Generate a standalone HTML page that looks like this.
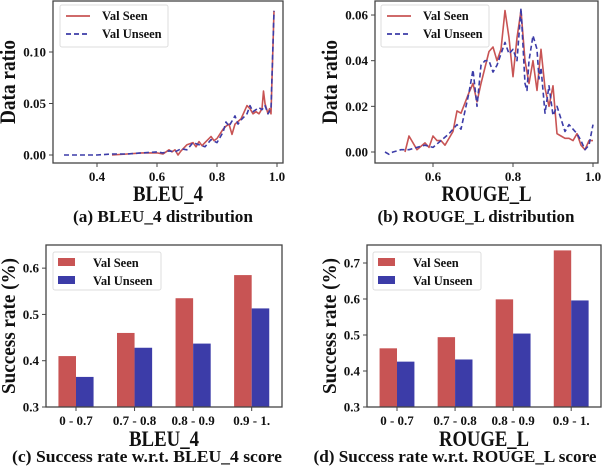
<!DOCTYPE html>
<html><head><meta charset="utf-8"><style>
body{margin:0;background:#fff;}
svg{display:block;}
text{font-family:"Liberation Serif","Times New Roman",serif;font-weight:bold;fill:#111;}
</style></head><body>
<svg id="root" width="606" height="470" viewBox="0 0 606 470" xmlns="http://www.w3.org/2000/svg"></svg>
<script>
// ---- data ----
const bleuSeenX=[0.45,0.5,0.55,0.6,0.62,0.64,0.65,0.66,0.67,0.68,0.7,0.72,0.73,0.74,0.75,0.76,0.78,0.79,0.8,0.82,0.83,0.84,0.85,0.86,0.88,0.9,0.91,0.92,0.93,0.94,0.95,0.955,0.96,0.97,0.975,0.98,0.99];
const bleuSeenY=[0,0.001,0.002,0.002,0.001,0.005,0.003,0.005,0,0.004,0.01,0.012,0.008,0.013,0.009,0.012,0.018,0.014,0.016,0.025,0.028,0.03,0.02,0.03,0.035,0.048,0.045,0.04,0.042,0.04,0.045,0.062,0.05,0.04,0.045,0.04,0.14];
const bleuUnseenX=[0.29,0.35,0.4,0.45,0.5,0.55,0.6,0.62,0.64,0.66,0.68,0.7,0.72,0.74,0.76,0.78,0.8,0.82,0.83,0.84,0.86,0.87,0.88,0.9,0.91,0.92,0.94,0.95,0.96,0.97,0.98,0.99];
const bleuUnseenY=[0,0,0,0.001,0.001,0.002,0.003,0.002,0.004,0.003,0.006,0.005,0.012,0.01,0.008,0.015,0.012,0.022,0.032,0.028,0.038,0.03,0.034,0.04,0.048,0.042,0.046,0.044,0.048,0.04,0.045,0.14];
const rougeSeenX=[0.53,0.54,0.56,0.58,0.59,0.6,0.61,0.62,0.63,0.65,0.66,0.67,0.69,0.7,0.71,0.72,0.74,0.75,0.76,0.77,0.78,0.79,0.8,0.81,0.82,0.83,0.84,0.85,0.86,0.87,0.88,0.89,0.9,0.91,0.92,0.93,0.94,0.95,0.96,0.97,0.98,0.99,1.0];
const rougeSeenY=[0,0.007,0.001,0.004,0.002,0.007,0.005,0.005,0.003,0.009,0.018,0.017,0.026,0.03,0.022,0.03,0.044,0.046,0.04,0.045,0.062,0.05,0.033,0.05,0.062,0.04,0.03,0.04,0.027,0.045,0.028,0.02,0.029,0.008,0.007,0.006,0.006,0.005,0.008,0.003,0.001,0.005,0.005];
const rougeUnseenX=[0.48,0.49,0.5,0.52,0.54,0.56,0.58,0.6,0.62,0.64,0.66,0.67,0.69,0.7,0.71,0.72,0.73,0.74,0.75,0.76,0.78,0.79,0.8,0.81,0.82,0.83,0.835,0.84,0.85,0.86,0.865,0.87,0.88,0.89,0.9,0.91,0.93,0.94,0.96,0.97,0.98,0.99,1.0];
const rougeUnseenY=[0,-0.001,0,0.001,0.001,0.002,0.003,0.002,0.005,0.008,0.012,0.01,0.026,0.036,0.02,0.038,0.04,0.04,0.035,0.038,0.048,0.043,0.045,0.04,0.063,0.03,0.027,0.04,0.051,0.045,0.032,0.037,0.017,0.029,0.016,0.02,0.009,0.012,0.008,0.005,0.001,0.003,0.012];
const barCats=["0 - 0.7","0.7 - 0.8","0.8 - 0.9","0.9 - 1."];
const bleuBarSeen=[0.41,0.46,0.535,0.585];
const bleuBarUnseen=[0.365,0.428,0.437,0.513];
const rougeBarSeen=[0.463,0.494,0.599,0.735];
const rougeBarUnseen=[0.426,0.432,0.504,0.596];
const ticksA=["0.4","0.6","0.8","1.0"], yticksA=["0.00","0.05","0.10"];
const ticksB=["0.6","0.8","1.0"], yticksB=["0.00","0.02","0.04","0.06"];
const yticksC=["0.3","0.4","0.5","0.6"], yticksD=["0.3","0.4","0.5","0.6","0.7"];

const RED="#c85454", BLUE="#3c3ca8";
const root=document.getElementById('root');
function el(tag,attrs,parent,text){const e=document.createElementNS("http://www.w3.org/2000/svg",tag);for(const k in attrs)e.setAttribute(k,attrs[k]);if(text!==undefined)e.textContent=text;(parent||root).appendChild(e);return e;}

function axesBox(g,L,T,R,B){const r=el('rect',{x:L,y:T,width:R-L,height:B-T,fill:'none',stroke:'#444','stroke-width':1.3},g);

}

function yTicks(g,L,labels,ys){labels.forEach((t,i)=>{const v=parseFloat(t);const y=ys(v);
el('line',{x1:L-4,x2:L,y1:y,y2:y,stroke:'#444'},g);
const tx=el('text',{x:L-7,y:y+4.5,'text-anchor':'end','font-size':13},g,t);

});}

function title(g,x,y,txt,name,rot,size,len){const a={x:x,y:y,'text-anchor':'middle','font-size':size};if(len){a.textLength=len;a.lengthAdjust='spacingAndGlyphs';}if(rot)a.transform=`rotate(-90 ${x} ${y})`;const t=el('text',a,g,txt);

}

function legend(g,x,y,w,h,isBar){const lg=el('g',{},g);


el('rect',{x:x,y:y,width:w,height:h,fill:'#fff',stroke:'#ddd',rx:2},lg);
[["Val Seen",RED,false],["Val Unseen",BLUE,true]].forEach((s,i)=>{const cy=y+11+i*18;const e=el('g',{},lg);


if(isBar)el('rect',{x:x+5,y:cy-5,width:17,height:8,fill:s[1]},e);
else el('line',{x1:x+6,x2:x+30,y1:cy,y2:cy,stroke:s[1],'stroke-width':1.8,'stroke-dasharray':s[2]?'5,3':''},e);
el('text',{x:x+(isBar?40:42),y:cy+4,'font-size':12.5},e,s[0]);});}

function linePanel(name,L,T,R,B,xs,ys,series,xt,yt,xl,xlLen,cap,capLen,capX,capY,legPos){
 const g=el('g',{});
 axesBox(g,L,T,R,B);
 series.forEach(s=>{const pts=s.x.map((v,i)=>xs(v).toFixed(1)+","+ys(s.y[i]).toFixed(1)).join(" ");
  const p=el('polyline',{points:pts,fill:'none',stroke:s.c,'stroke-width':1.6,'stroke-dasharray':s.d?'5,3':'','stroke-linejoin':'round'},g);
  
  });
 xt.forEach(t=>{const x=xs(parseFloat(t));el('line',{x1:x,x2:x,y1:B,y2:B+4,stroke:'#444'},g);
  const tx=el('text',{x:x,y:B+18,'text-anchor':'middle','font-size':13},g,t);
  
  });
 yTicks(g,L,yt,ys);
 title(g,(L+R)/2,B+38,xl,'x-axis-title',false,22,xlLen);
 title(g,(L-38),(T+B)/2,'Data ratio','y-axis-title',true,22,84);
 title(g,capX,capY,cap,'caption',false,16.5,capLen);
 legend(g,legPos[0],legPos[1],108,42,false);
}

linePanel('panel-a-bleu-distribution',53,1,283,163,v=>97+(v-0.4)*300,v=>155-v*1030,
 [{x:bleuSeenX,y:bleuSeenY,c:RED,d:false,n:'line-val-seen'},{x:bleuUnseenX,y:bleuUnseenY,c:BLUE,d:true,n:'line-val-unseen'}],
 ticksA,yticksA,'BLEU_4',70,'(a) BLEU_4 distribution',180,163,222,[60,5]);
linePanel('panel-b-rouge-distribution',375,1,598,163,v=>433+(v-0.6)*400,v=>152-v*2283,
 [{x:rougeSeenX,y:rougeSeenY,c:RED,d:false,n:'line-val-seen'},{x:rougeUnseenX,y:rougeUnseenY,c:BLUE,d:true,n:'line-val-unseen'}],
 ticksB,yticksB,'ROUGE_L',90,'(b) ROUGE_L distribution',197,476,222,[381,5]);

function barPanel(name,L,T,R,B,ymin,ymax,seen,unseen,yt,xl,xlLen,cap,capLen,capX,centers0,legPos){
 const g=el('g',{});
 const ys=v=>B-(v-ymin)/(ymax-ymin)*(B-T);
 const step=(R-L)/4.03, bw=step*0.3;
 const cx=i=>centers0+i*step;
 barCats.forEach((c,i)=>{
  const r1=el('rect',{x:cx(i)-bw,y:ys(seen[i]),width:bw,height:B-ys(seen[i]),fill:RED},g);
  
  
  const r2=el('rect',{x:cx(i),y:ys(unseen[i]),width:bw,height:B-ys(unseen[i]),fill:BLUE},g);
  
  
  el('line',{x1:cx(i),x2:cx(i),y1:B,y2:B+4,stroke:'#444'},g);
  const t=el('text',{x:cx(i),y:B+18,'text-anchor':'middle','font-size':13},g,c);
  
  
 });
 axesBox(g,L,T,R,B);
 yTicks(g,L,yt,ys);
 title(g,(L+R)/2,B+39,xl,'x-axis-title',false,22,xlLen);
 title(g,L-31,(T+B)/2,'Success rate (%)','y-axis-title',true,20,136);
 title(g,capX,462,cap,'caption',false,16.5,capLen);
 legend(g,legPos[0],legPos[1],108,38,true);
}
barPanel('panel-c-bleu-success',46,245,282,407,0.3,0.65,bleuBarSeen,bleuBarUnseen,yticksC,'BLEU_4',70,'(c) Success rate w.r.t. BLEU_4 score',270,147,76,[53,252]);
barPanel('panel-d-rouge-success',367,245,601,407,0.3,0.75,rougeBarSeen,rougeBarUnseen,yticksD,'ROUGE_L',90,'(d) Success rate w.r.t. ROUGE_L score',283,455,397,[373,252]);
</script>
</body></html>
